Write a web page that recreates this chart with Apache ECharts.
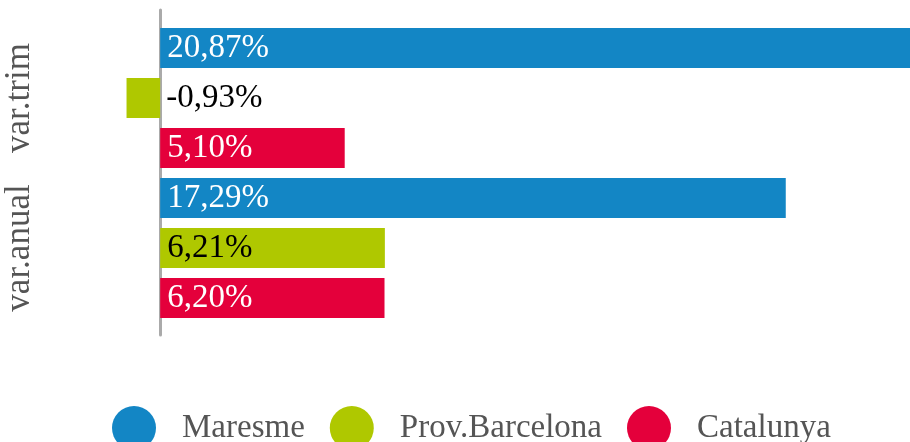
<!DOCTYPE html>
<html><head><meta charset="utf-8">
<script src="https://cdn.jsdelivr.net/npm/echarts@6/dist/echarts.min.js"></script>
<style>html,body{margin:0;padding:0;background:#fff}#c{width:910px;height:442px}</style>
</head><body><div id="c"></div>
<script>
const categories = ['var.trim', 'var.anual'];
const seriesNames = ['Maresme', 'Prov.Barcelona', 'Catalunya'];
const maresme = [20.87, 17.29];
const provBarcelona = [-0.93, 6.21];
const catalunya = [5.10, 6.20];
const colors = ['#1386C5', '#AFC800', '#E4003B'];
const labelColors = ['#ffffff', '#000000', '#ffffff'];
const FONT = '"Liberation Serif", serif';

function fmt(v) { return v.toFixed(2).replace('.', ',') + '%'; }

function makeSeries(name, vals, idx) {
  return {
    name: name, type: 'bar', xAxisIndex: 0, yAxisIndex: 0,
    barWidth: 40, barGap: '25%',
    itemStyle: { color: colors[idx] },
    data: vals.map(v => ({
      value: v,
      label: v < 0 ? { position: 'right', distance: 6 } : {}
    })),
    label: {
      show: true, position: 'insideLeft', distance: 7,
      color: labelColors[idx], fontFamily: FONT, fontSize: 33,
      formatter: p => fmt(p.value)
    },
    animation: false
  };
}

const chart = echarts.init(document.getElementById('c'));
chart.setOption({
  animation: false,
  legend: {
    left: 107, top: 401, icon: 'circle', itemWidth: 44, itemHeight: 44, itemGap: 25,
    textStyle: { fontFamily: FONT, fontSize: 33, color: '#555', padding: [0, 0, 0, 21] },
    data: seriesNames
  },
  grid: [
    { left: 124, right: -10, top: 23, height: 300, containLabel: false, outerBoundsMode: 'none' },
    { left: 160, width: 10, top: 10, height: 325, containLabel: false, outerBoundsMode: 'none' }
  ],
  xAxis: [
    { gridIndex: 0, type: 'value', min: -1, max: 21, show: false },
    { gridIndex: 1, type: 'value', show: false }
  ],
  yAxis: [
    { gridIndex: 0, type: 'category', inverse: true, data: categories,
      axisLine: { show: false }, axisTick: { show: false },
      axisLabel: { rotate: 90, margin: 87, interval: 0, hideOverlap: false, fontFamily: FONT, fontSize: 35, color: '#555' } },
    { gridIndex: 1, type: 'category', data: categories,
      axisLine: { show: true, lineStyle: { color: '#AAAAAA', width: 3 } },
      axisTick: { show: false }, axisLabel: { show: false } }
  ],
  series: [
    makeSeries(seriesNames[0], maresme, 0),
    makeSeries(seriesNames[1], provBarcelona, 1),
    makeSeries(seriesNames[2], catalunya, 2)
  ]
});
</script></body></html>
